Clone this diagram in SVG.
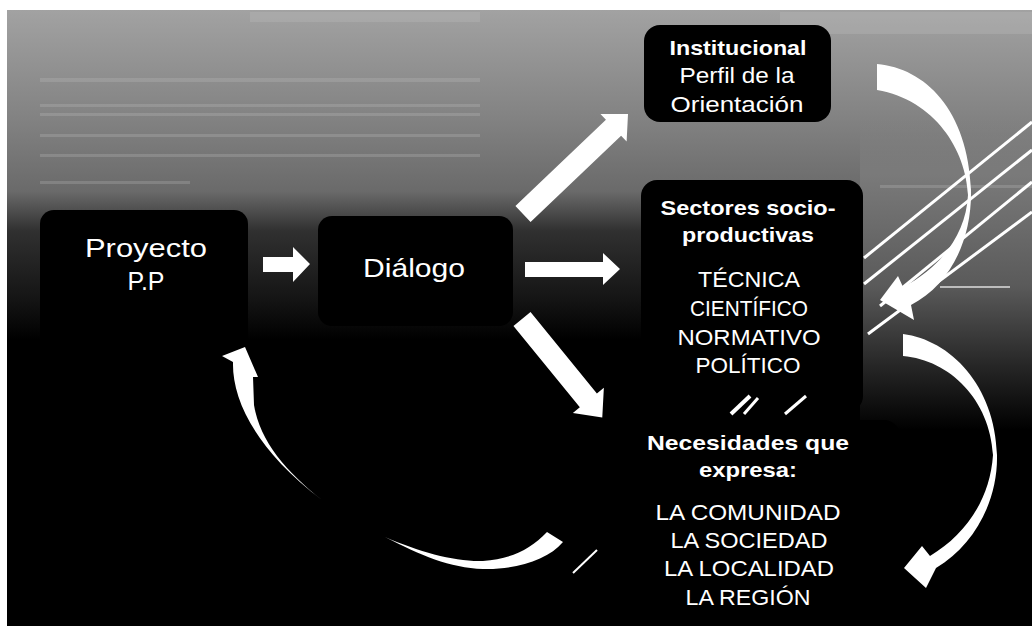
<svg xmlns="http://www.w3.org/2000/svg" width="1032" height="626" viewBox="0 0 1032 626">
  <defs>
    <linearGradient id="tex" x1="0" y1="10" x2="0" y2="340" gradientUnits="userSpaceOnUse">
      <stop offset="0" stop-color="#a2a2a2"/>
      <stop offset="0.33" stop-color="#828282"/>
      <stop offset="0.55" stop-color="#6a6a6a"/>
      <stop offset="0.67" stop-color="#303030"/>
      <stop offset="0.88" stop-color="#141414"/>
      <stop offset="1" stop-color="#000000"/>
    </linearGradient>
    <linearGradient id="texR" x1="0" y1="110" x2="0" y2="430" gradientUnits="userSpaceOnUse">
      <stop offset="0" stop-color="#848484" stop-opacity="0"/>
      <stop offset="0.2" stop-color="#7a7a7a"/>
      <stop offset="0.55" stop-color="#5a5a5a"/>
      <stop offset="0.8" stop-color="#262626"/>
      <stop offset="1" stop-color="#000000"/>
    </linearGradient>
  </defs>
  <style>
    .box { fill: #000000; }
    .lbl { fill: #ffffff; font-family: "Liberation Sans", "DejaVu Sans", Arial, sans-serif; text-anchor: middle; }
    .big { font-size: 26px; }
    .ttl { font-size: 21px; font-weight: bold; }
    .itm { font-size: 22px; }
    .arr { fill: #ffffff; }
    .band { fill: #c4c4c4; opacity: 0.25; }
    .stripe { stroke: #ffffff; stroke-width: 3; fill: none; }
  </style>

  <!-- background -->
  <rect x="0" y="0" width="1032" height="626" fill="#ffffff"/>
  <rect x="7" y="10" width="1025" height="616" fill="#000000"/>
  <rect x="7" y="10" width="1025" height="330" fill="url(#tex)"/>
  <rect x="860" y="110" width="172" height="320" fill="url(#texR)"/>
  <rect x="250" y="12" width="230" height="10" class="band"/>
  <rect x="780" y="12" width="252" height="22" class="band"/>
  <rect x="40" y="78" width="440" height="4" class="band"/>
  <rect x="40" y="104" width="440" height="3" class="band"/>
  <rect x="40" y="113" width="440" height="3" class="band"/>
  <rect x="40" y="134" width="440" height="3" class="band"/>
  <rect x="40" y="154" width="440" height="3" class="band"/>
  <rect x="40" y="181" width="150" height="3" class="band"/>
  <rect x="880" y="185" width="152" height="3" class="band"/>
  <rect x="940" y="286" width="70" height="2" fill="#ffffff" opacity="0.6"/>

  <!-- nodes -->
  <g id="node-proyecto">
    <rect class="box" x="40" y="210" width="208" height="420" rx="14"/>
    <text class="lbl big" x="146" y="257" textLength="122" lengthAdjust="spacingAndGlyphs">Proyecto</text>
    <text class="lbl big" x="146" y="290" textLength="37" lengthAdjust="spacingAndGlyphs">P.P</text>
  </g>
  <g id="node-dialogo">
    <rect class="box" x="318" y="216" width="195" height="110" rx="14"/>
    <text class="lbl big" x="414" y="277" textLength="102" lengthAdjust="spacingAndGlyphs">Diálogo</text>
  </g>
  <g id="node-institucional">
    <rect class="box" x="644" y="25" width="187" height="97" rx="16"/>
    <text class="lbl ttl" x="738" y="55" textLength="137" lengthAdjust="spacingAndGlyphs">Institucional</text>
    <text class="lbl itm" x="737" y="83" textLength="115" lengthAdjust="spacingAndGlyphs">Perfil de la</text>
    <text class="lbl itm" x="737" y="112" textLength="133" lengthAdjust="spacingAndGlyphs">Orientación</text>
  </g>
  <g id="node-sectores">
    <rect class="box" x="641" y="180" width="222" height="232" rx="16"/>
    <text class="lbl ttl" x="748" y="215" textLength="175" lengthAdjust="spacingAndGlyphs">Sectores socio-</text>
    <text class="lbl ttl" x="748" y="242" textLength="132" lengthAdjust="spacingAndGlyphs">productivas</text>
    <text class="lbl itm" x="749" y="287" textLength="102" lengthAdjust="spacingAndGlyphs">TÉCNICA</text>
    <text class="lbl itm" x="749" y="316" textLength="118" lengthAdjust="spacingAndGlyphs">CIENTÍFICO</text>
    <text class="lbl itm" x="749" y="345" textLength="143" lengthAdjust="spacingAndGlyphs">NORMATIVO</text>
    <text class="lbl itm" x="748" y="373" textLength="105" lengthAdjust="spacingAndGlyphs">POLÍTICO</text>
  </g>
  <g id="node-necesidades">
    <rect class="box" x="610" y="420" width="290" height="206" rx="16"/>
    <text class="lbl ttl" x="748" y="450" textLength="202" lengthAdjust="spacingAndGlyphs">Necesidades que</text>
    <text class="lbl ttl" x="748" y="477" textLength="98" lengthAdjust="spacingAndGlyphs">expresa:</text>
    <text class="lbl itm" x="748" y="520" textLength="185" lengthAdjust="spacingAndGlyphs">LA COMUNIDAD</text>
    <text class="lbl itm" x="749" y="548" textLength="157" lengthAdjust="spacingAndGlyphs">LA SOCIEDAD</text>
    <text class="lbl itm" x="749" y="576" textLength="170" lengthAdjust="spacingAndGlyphs">LA LOCALIDAD</text>
    <text class="lbl itm" x="748" y="605" textLength="125" lengthAdjust="spacingAndGlyphs">LA REGIÓN</text>
  </g>

  <!-- decorative stripes -->
  <g id="stripes">
    <line class="stripe" x1="864" y1="258" x2="1032" y2="122"/>
    <line class="stripe" x1="864" y1="284" x2="1032" y2="150"/>
    <line class="stripe" x1="880" y1="306" x2="1032" y2="182"/>
    <line class="stripe" x1="868" y1="334" x2="1032" y2="212"/>
    <line stroke="#ffffff" stroke-width="4" x1="731" y1="414" x2="750" y2="396"/>
    <line stroke="#ffffff" stroke-width="3" x1="744" y1="414" x2="758" y2="398"/>
    <line stroke="#ffffff" stroke-width="3" x1="785" y1="414" x2="806" y2="396"/>
    <line stroke="#ffffff" stroke-width="2" x1="573" y1="573" x2="597" y2="550"/>
  </g>

  <!-- connectors -->
  <g id="connectors">
    <polygon class="arr" points="263,257 293,257 293,247 310,264 293,282 293,272 263,272"/>
    <g transform="translate(523,214) rotate(-43.6)">
      <polygon class="arr" points="0,-11 125,-11 125,-19 145,0 125,19 125,11 0,11"/>
    </g>
    <polygon class="arr" points="525,262 603,262 603,253 620,269 603,285 603,277 525,277"/>
    <g transform="translate(522,319) rotate(50.8)">
      <polygon class="arr" points="0,-11 105,-11 105,-20 127,0 105,20 105,11 0,11"/>
    </g>
    <path class="arr" d="M877,64 C925,68 968,110 971,190 C972,240 950,285 911,305 L914,320 L880,300 L898,276 L903,287 C940,268 966,235 968,195 C966,150 935,100 877,90 Z"/>
    <path class="arr" d="M903,334 C950,340 995,385 997,455 C998,500 975,545 936,568 L926,588 L904,568 L922,546 L930,556 C965,535 990,500 993,455 C990,400 950,360 903,356 Z"/>
    <path class="arr" d="M563,542 C548,560 515,570 483,569 C450,568 420,555 385,537 C420,552 455,562 483,561 C510,559 530,550 547,532 Z"/>
    <path class="arr" d="M322,500 C287,472 260,442 254,405 L253,377 L258,377 L245,347 L222,356 L233,362 C232,400 256,450 322,500 Z"/>
  </g>
</svg>
